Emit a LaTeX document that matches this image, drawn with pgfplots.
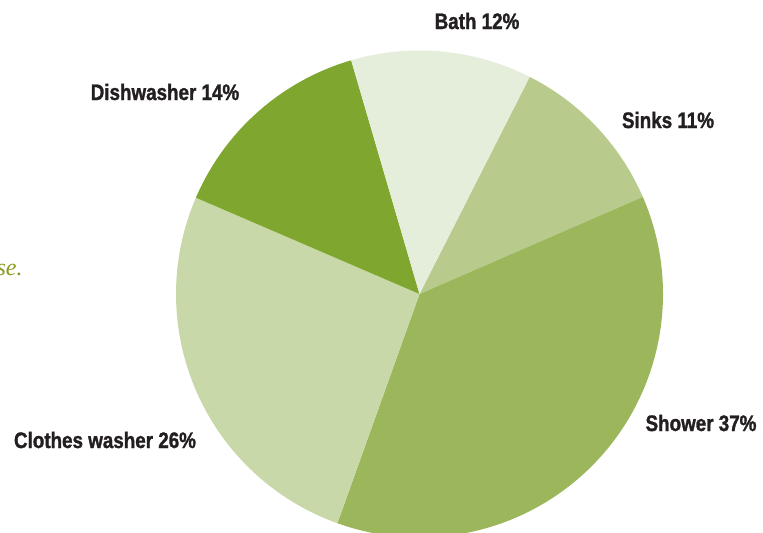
\documentclass[border=0pt]{standalone}
\usepackage{pgfplots}
\pgfplotsset{compat=1.18}
\usepackage{pgfplotstable}
\usepackage{fontspec}
\setmainfont{Liberation Sans}
\newfontfamily\labfont[FakeStretch=0.84, BoldFeatures={FakeBold=1.3}]{Liberation Sans}
\newfontfamily\serifit{Liberation Serif}
\definecolor{cBath}{HTML}{E5EDDB}
\definecolor{cSinks}{HTML}{B8CB8D}
\definecolor{cShower}{HTML}{9BB65B}
\definecolor{cClothes}{HTML}{C8D8A8}
\definecolor{cDish}{HTML}{7FA62E}
\definecolor{txt}{HTML}{231F20}
\definecolor{olive}{HTML}{8C9A1F}
% shares in percent, clockwise from the Bath/Sinks boundary
\pgfplotstableread{
name pct
Sinks 11
Shower 37
Clothes 26
Dish 14
Bath 12
}\pietable
\begin{document}
\begin{tikzpicture}[x=0.5pt,y=0.5pt]
\useasboundingbox (0,0) rectangle (763,532);
\def\cx{419.5}\def\cy{-294}\def\R{243.5}
\pgfmathsetmacro{\aA}{63.1}
\pgfplotstablegetelem{0}{pct}\of\pietable \pgfmathsetmacro{\bA}{\aA-3.6*\pgfplotsretval}
\pgfplotstablegetelem{1}{pct}\of\pietable \pgfmathsetmacro{\bB}{\bA-3.6*\pgfplotsretval}
\pgfplotstablegetelem{2}{pct}\of\pietable \pgfmathsetmacro{\bC}{\bB-3.6*\pgfplotsretval}
\pgfplotstablegetelem{3}{pct}\of\pietable \pgfmathsetmacro{\bD}{\bC-3.6*\pgfplotsretval}
\pgfplotstablegetelem{4}{pct}\of\pietable \pgfmathsetmacro{\bE}{\bD-3.6*\pgfplotsretval}
\begin{axis}[
  at={(0,0)}, anchor=south west,
  scale only axis, width=381.5pt, height=266pt,
  xmin=0, xmax=763, ymin=-532, ymax=0,
  hide axis, clip=true,
]
\addplot[fill=cSinks, draw=none, domain=\bA:\aA, samples=60]
  ({\cx+\R*cos(x)},{\cy+\R*sin(x)}) -- (axis cs:\cx,\cy) -- cycle;
\addplot[fill=cShower, draw=none, domain=\bB:\bA, samples=120]
  ({\cx+\R*cos(x)},{\cy+\R*sin(x)}) -- (axis cs:\cx,\cy) -- cycle;
\addplot[fill=cClothes, draw=none, domain=\bC:\bB, samples=100]
  ({\cx+\R*cos(x)},{\cy+\R*sin(x)}) -- (axis cs:\cx,\cy) -- cycle;
\addplot[fill=cDish, draw=none, domain=\bD:\bC, samples=60]
  ({\cx+\R*cos(x)},{\cy+\R*sin(x)}) -- (axis cs:\cx,\cy) -- cycle;
\addplot[fill=cBath, draw=none, domain=\bE:\bD, samples=60]
  ({\cx+\R*cos(x)},{\cy+\R*sin(x)}) -- (axis cs:\cx,\cy) -- cycle;
\end{axis}
\begin{scope}[every node/.style={inner sep=0pt, text=txt, font=\labfont\bfseries\fontsize{11.2}{13}\selectfont}]
\node at (477,511) {Bath 12\%};
\node at (668,412) {Sinks 11\%};
\node at (165,440) {Dishwasher 14\%};
\node at (701,109) {Shower 37\%};
\node at (105,92) {Clothes washer 26\%};
\end{scope}
\node[anchor=base east, inner sep=0pt, text=olive, font=\serifit\itshape\fontsize{12}{14}\selectfont] at (23,257) {se.};
\end{tikzpicture}
\end{document}
